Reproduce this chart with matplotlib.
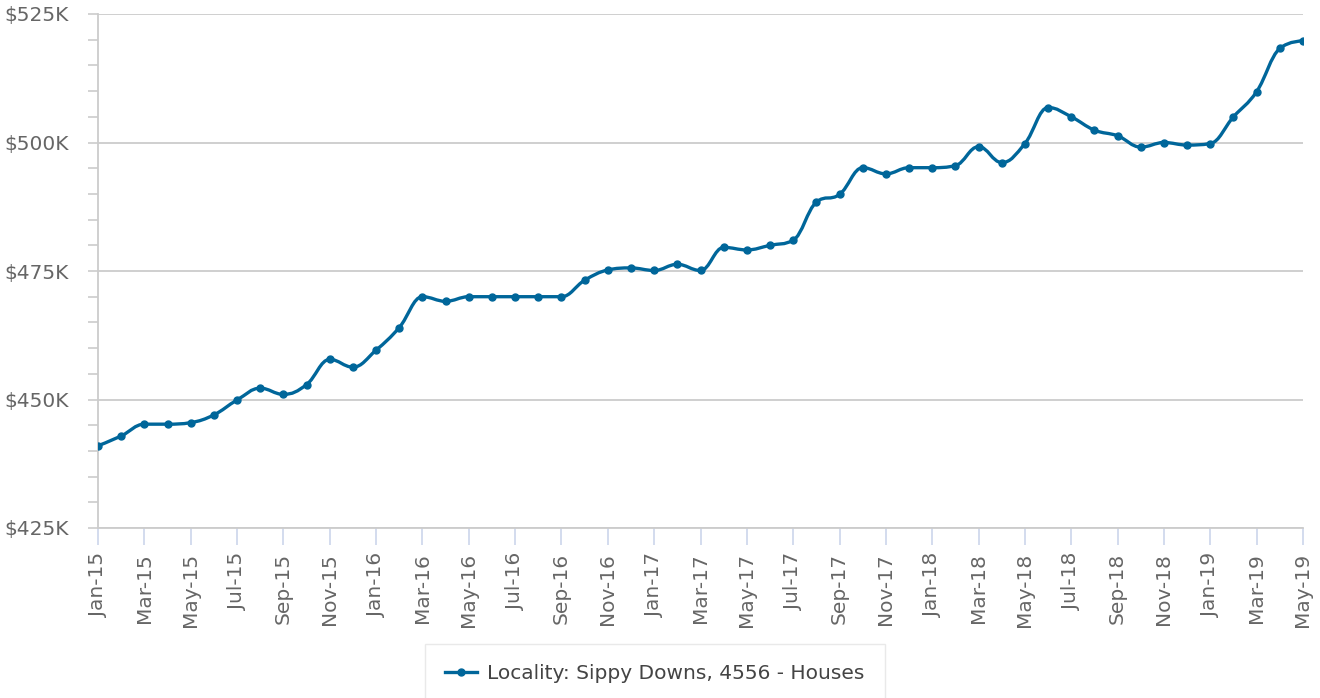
import numpy as np
import matplotlib
matplotlib.use('Agg')
import matplotlib.pyplot as plt
from matplotlib.path import Path
from matplotlib.patches import PathPatch
from matplotlib.lines import Line2D
from matplotlib.ticker import FuncFormatter, MultipleLocator

# monthly median value, Jan-15 .. May-19 (in $K)
months = ['Jan', 'Feb', 'Mar', 'Apr', 'May', 'Jun', 'Jul', 'Aug', 'Sep', 'Oct', 'Nov', 'Dec']
years = ['15', '16', '17', '18', '19']
labels = [f'{m}-{y}' for y in years for m in months][:53]
values = [441.0, 442.9, 445.2, 445.2, 445.5, 447.0, 449.9, 452.2, 451.0, 452.9, 457.8, 456.3,
          459.6, 464.0, 470.0, 469.1, 470.0, 470.0, 470.0, 470.0, 470.0, 473.2, 475.2, 475.6,
          475.1, 476.3, 475.1, 479.6, 479.1, 480.0, 481.0, 488.4, 489.9, 495.1, 493.9, 495.1,
          495.1, 495.5, 499.2, 496.1, 499.8, 506.8, 505.0, 502.4, 501.3, 499.1, 500.0, 499.5,
          499.8, 505.0, 509.9, 518.3, 519.8]
series_name = 'Locality: Sippy Downs, 4556 - Houses'

LINE = '#00669a'
GREY = '#666666'
GRID = '#cccccc'
FS = 14.5


def spline_path(xs, ys, smoothing=1.5):
    """Bezier path through the points, same construction as a highcharts spline"""
    denom = smoothing + 1
    verts = [(xs[0], ys[0])]
    codes = [Path.MOVETO]
    right = [None] * len(xs)
    for i in range(1, len(xs)):
        px, py = xs[i], ys[i]
        lc = (px, py)
        if i < len(xs) - 1:
            lx, ly = xs[i - 1], ys[i - 1]
            nx, ny = xs[i + 1], ys[i + 1]
            lcx = (smoothing * px + lx) / denom
            lcy = (smoothing * py + ly) / denom
            rcx = (smoothing * px + nx) / denom
            rcy = (smoothing * py + ny) / denom
            corr = (rcy - lcy) * (rcx - px) / (rcx - lcx) + py - rcy
            lcy += corr
            rcy += corr
            if lcy > ly and lcy > py:
                lcy = max(ly, py)
                rcy = 2 * py - lcy
            elif lcy < ly and lcy < py:
                lcy = min(ly, py)
                rcy = 2 * py - lcy
            if rcy > ny and rcy > py:
                rcy = max(ny, py)
                lcy = 2 * py - rcy
            elif rcy < ny and rcy < py:
                rcy = min(ny, py)
                lcy = 2 * py - rcy
            lc = (lcx, lcy)
            right[i] = (rcx, rcy)
        prev = right[i - 1] if right[i - 1] is not None else (xs[i - 1], ys[i - 1])
        verts += [prev, lc, (px, py)]
        codes += [Path.CURVE4] * 3
    return Path(verts, codes)


fig = plt.figure(figsize=(13.2, 6.98), dpi=100)
ax = fig.add_axes([98 / 1320, 1 - 528 / 698, 1205 / 1320, 514 / 698])

x = np.arange(len(values))
ax.add_patch(PathPatch(spline_path(x, values), facecolor='none', edgecolor=LINE,
                       lw=2.4, capstyle='round', joinstyle='round', zorder=3))
ax.plot(x, values, 'o', color=LINE, ms=5, zorder=4)

ax.set_xlim(0, len(values) - 1)
ax.set_ylim(425, 525)

ax.yaxis.set_major_locator(MultipleLocator(25))
ax.yaxis.set_minor_locator(MultipleLocator(5))
ax.yaxis.set_major_formatter(FuncFormatter(lambda v, p: f'${v:.0f}K'))
ax.grid(axis='y', color=GRID, lw=1.3, zorder=1)
ax.tick_params(axis='y', which='both', length=7, width=1.2, color=GRID,
               labelsize=FS, labelcolor=GREY, pad=14)

ax.set_xticks(x[::2])
ax.set_xticklabels(labels[::2], rotation=90)
ax.tick_params(axis='x', length=12, width=1.2, color='#ccd6eb',
               labelsize=FS, labelcolor=GREY, pad=6)

for s in ['top', 'right']:
    ax.spines[s].set_visible(False)
for s in ['left', 'bottom']:
    ax.spines[s].set_color(GRID)
    ax.spines[s].set_linewidth(1.3)

handle = Line2D([], [], color=LINE, lw=2.4, marker='o', ms=5)
leg = fig.legend([handle], [series_name], loc='upper center',
                 bbox_to_anchor=(0.496, 1 - 644 / 698), fontsize=FS,
                 frameon=True, fancybox=False, borderpad=1.0, borderaxespad=0,
                 handlelength=1.6, handletextpad=0.5)
leg.get_frame().set_edgecolor('#e4e4e4')
leg.get_frame().set_linewidth(1.0)
for t in leg.get_texts():
    t.set_color('#444444')

fig.savefig('out.png', dpi=100)
